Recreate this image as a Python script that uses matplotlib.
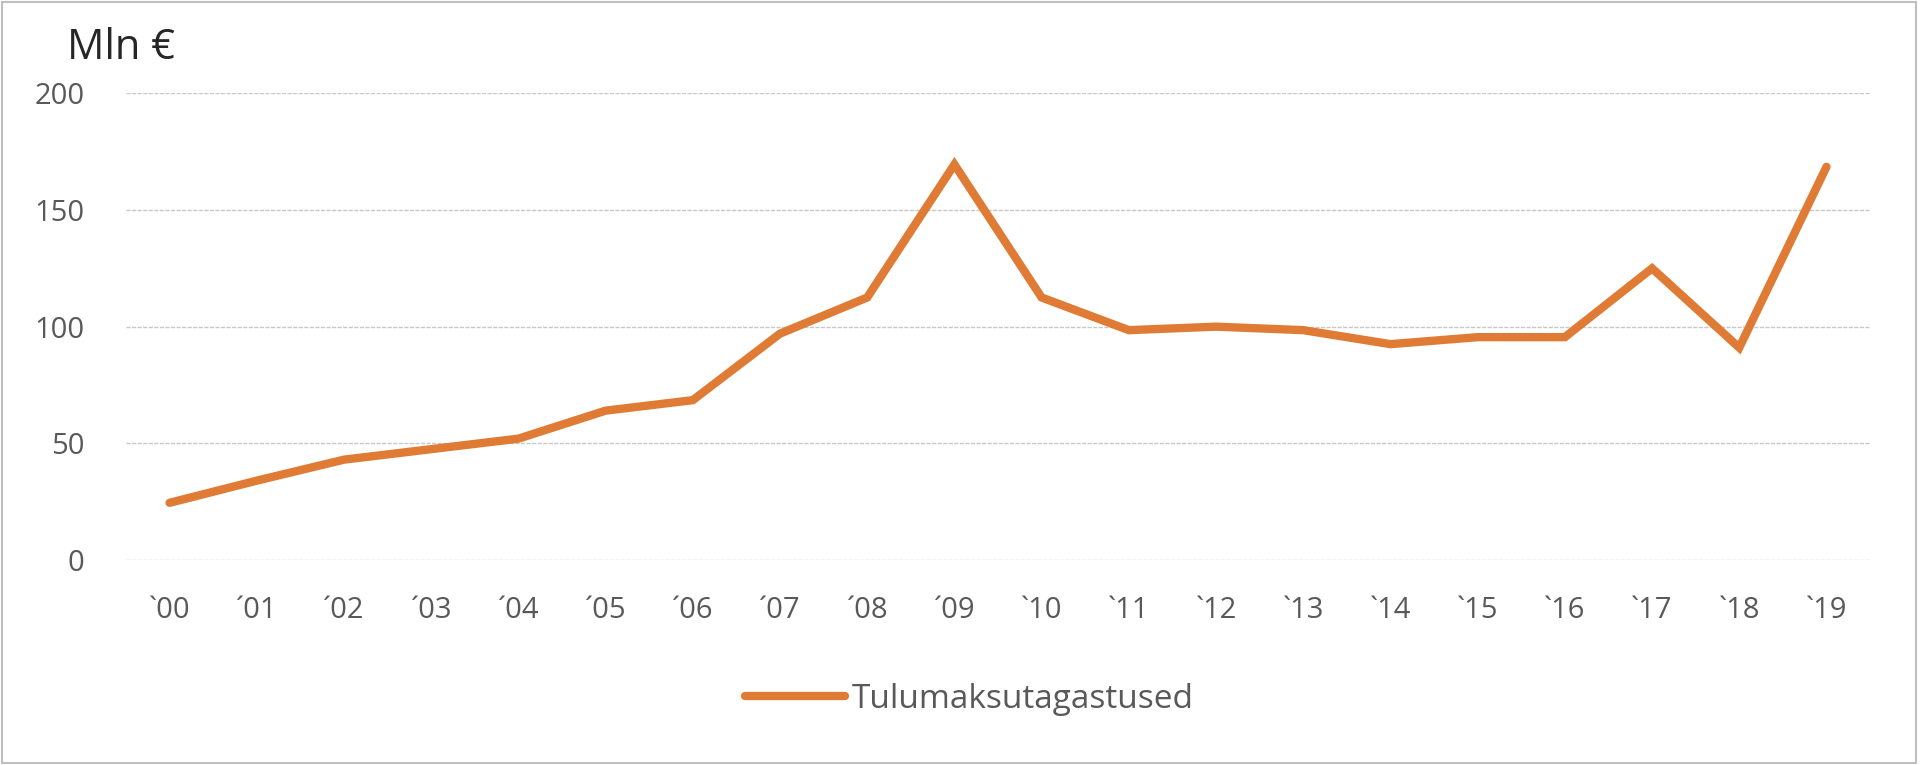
import matplotlib.pyplot as plt
from matplotlib.patches import Rectangle

# Tulumaksutagastused, mln eurot
years  = ['`00', '´01', '´02', '´03', '´04', '´05', '´06', '´07', '´08', '´09',
          '`10', '`11', '`12', '`13', '`14', '`15', '`16', '`17', '`18', '`19']
values = [24.5, 34, 43, 47.5, 52, 64, 68.5, 97, 112.5, 169.5,
          112.5, 98.5, 100, 98.5, 92.5, 95.5, 95.5, 125, 91, 168.5]
yticks = [0, 50, 100, 150, 200]

line_color = '#E07B35'
text_color = '#595959'

plt.rcParams['font.family'] = ['Open Sans', 'DejaVu Sans']

fig = plt.figure(figsize=(19.2, 7.65), dpi=100)
ax = fig.add_axes([0.0656, 0.268, 0.9084, 0.61])

x = list(range(len(years)))
ax.plot(x, values, color=line_color, linewidth=6.0, solid_capstyle='round',
        solid_joinstyle='miter', label='Tulumaksutagastused', zorder=3)

ax.set_xlim(-0.5, len(years) - 0.5)
ax.set_ylim(0, 200)
ax.set_yticks(yticks)
ax.set_xticks(x)
ax.set_xticklabels(years)
ax.tick_params(axis='both', length=0, labelsize=21, labelcolor=text_color)
ax.tick_params(axis='x', pad=26)
ax.tick_params(axis='y', pad=30)
ax.grid(axis='y', color='#C8C8C8', linewidth=1.0, linestyle=(0, (3, 1)))
ax.set_axisbelow(True)
for s in ax.spines.values():
    s.set_visible(False)

fig.text(0.035, 0.937, 'Mln €', fontsize=30, color='#262626', va='center', ha='left')

leg = fig.legend(loc='center', bbox_to_anchor=(0.505, 0.086), frameon=False,
                 fontsize=24, handlelength=3.0, handletextpad=0.2)
for t in leg.get_texts():
    t.set_color(text_color)

# outer border
fig.patches.append(Rectangle((0.001, 0.002), 0.997, 0.995, transform=fig.transFigure,
                             fill=False, edgecolor='#BFBFBF', linewidth=1.5))

fig.savefig('out.png', dpi=100, facecolor='white')
